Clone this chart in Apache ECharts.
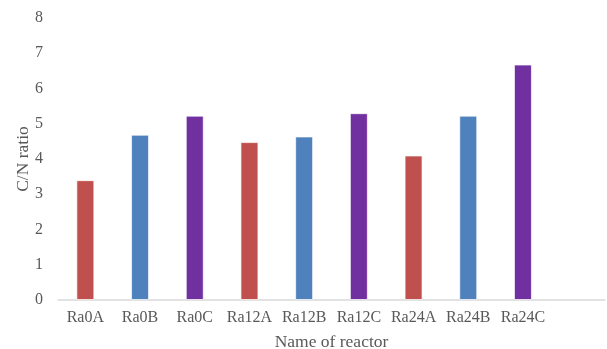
<!DOCTYPE html>
<html>
<head>
<meta charset="utf-8">
<script src="https://cdn.jsdelivr.net/npm/echarts@6/dist/echarts.min.js"></script>
<style>
  html, body { margin: 0; padding: 0; background: #fff; }
  #chart { width: 607px; height: 349px; }
</style>
</head>
<body>
<div id="chart"></div>
<script>
// Reactor names (a trailing empty slot leaves room on the right of the axis)
const reactors = ['Ra0A', 'Ra0B', 'Ra0C', 'Ra12A', 'Ra12B', 'Ra12C', 'Ra24A', 'Ra24B', 'Ra24C', ''];
// C/N ratio per reactor
const cnRatio = [3.40, 4.69, 5.23, 4.48, 4.64, 5.30, 4.10, 5.23, 6.68, null];
// Bar colour by reactor suffix: A, B, C
const suffixColors = { A: '#C0504D', B: '#4F81BD', C: '#7030A0' };
const yTicks = { min: 0, max: 8, interval: 1 };

const serif = '"Liberation Serif", "Times New Roman", serif';
const chart = echarts.init(document.getElementById('chart'), null, { renderer: 'canvas' });

chart.setOption({
  animation: false,
  grid: { left: 58, right: 2, top: 18, bottom: 49, containLabel: false, outerBoundsMode: 'none' },
  xAxis: {
    type: 'category',
    data: reactors,
    name: 'Name of reactor',
    nameLocation: 'middle',
    nameGap: 33,
    nameMoveOverlap: false,
    nameTextStyle: { fontFamily: serif, fontSize: 17.5, color: '#595959' },
    axisLine: { lineStyle: { color: '#D9D9D9', width: 1.5 } },
    axisTick: { show: false },
    axisLabel: { fontFamily: serif, fontSize: 16, color: '#595959', margin: 10, interval: 0 }
  },
  yAxis: {
    type: 'value',
    min: yTicks.min,
    max: yTicks.max,
    interval: yTicks.interval,
    name: 'C/N ratio',
    nameLocation: 'middle',
    nameGap: 26,
    nameMoveOverlap: false,
    nameTextStyle: { fontFamily: serif, fontSize: 17.5, color: '#595959' },
    axisLine: { show: false },
    axisTick: { show: false },
    splitLine: { show: false },
    axisLabel: { fontFamily: serif, fontSize: 16, color: '#595959', margin: 15 }
  },
  series: [{
    type: 'bar',
    barWidth: 18,
    data: cnRatio.map((v, i) => ({
      value: v,
      itemStyle: {
        color: reactors[i] ? suffixColors[reactors[i].slice(-1)] : 'transparent',
        borderColor: 'rgba(255,255,255,0.7)',
        borderWidth: 1
      }
    }))
  }]
});
</script>
</body>
</html>
